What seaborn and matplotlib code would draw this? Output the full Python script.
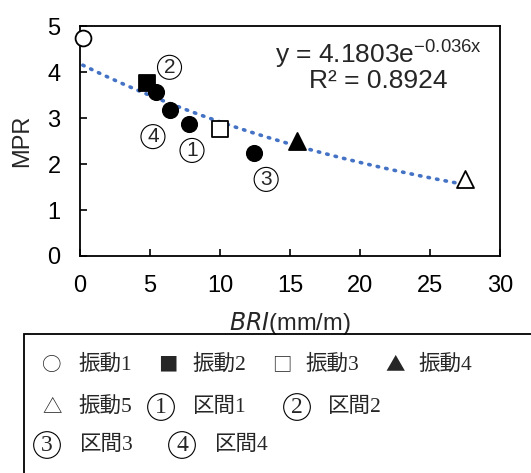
import numpy as np
import pandas as pd
import matplotlib.pyplot as plt
from matplotlib.patches import Rectangle
import seaborn as sns

# vibration test points (振動1-5)
vib_names = ['振動1', '振動2', '振動3', '振動4', '振動5']
vib_bri = [0.2, 4.8, 10.0, 15.5, 27.5]
vib_mpr = [4.74, 3.76, 2.76, 2.50, 1.67]
vib_markers = ['o', 's', 's', '^', '^']
vib_filled = [False, True, False, True, False]

# section points (区間1-4)
sec_labels = ['1', '2', '3', '4']
sec_bri = [7.8, 5.4, 12.4, 6.4]
sec_mpr = [2.87, 3.56, 2.24, 3.17]
sec_label_offsets = [(2, -19), (10, 18), (9, -19), (-12, -19)]

# exponential trendline y = a * exp(b * x)
fit_a = 4.1803
fit_b = -0.036
fit_r2 = 0.8924

# text box entries: symbol, circled?, label
key_symbols = ['○', '■', '□', '▲', '△', '1', '2', '3', '4']
key_circled = [False] * 5 + [True] * 4
key_texts = vib_names + ['区間1', '区間2', '区間3', '区間4']
key_sym_x = [52, 168, 282, 395, 52, 161, 297, 47, 182]
key_txt_x = [78, 192, 305, 418, 78, 193, 328, 80, 215]
key_row_y = [365, 365, 365, 365, 407, 407, 407, 445, 445]

sns.set_style('white')
plt.rcParams['font.family'] = ['Liberation Sans', 'DejaVu Sans']

fig = plt.figure(figsize=(5.31, 4.73), dpi=100)
ax = fig.add_axes([0.1507, 0.4588, 0.791, 0.486])

xs = np.linspace(min(vib_bri), max(vib_bri), 200)
trend = pd.DataFrame({'x': xs, 'y': fit_a * np.exp(fit_b * xs)})
sns.lineplot(data=trend, x='x', y='y', ax=ax, color='#4472C4', lw=2.6,
             linestyle=(0, (0.4, 2.0)), dash_capstyle='round', zorder=2)

for bx, my, mk, filled in zip(vib_bri, vib_mpr, vib_markers, vib_filled):
    sns.scatterplot(x=[bx], y=[my], ax=ax, marker=mk, s=130 if mk != '^' else 150,
                    color='black' if filled else 'white', edgecolor='black',
                    linewidth=1.3, zorder=3, clip_on=False)

sns.scatterplot(x=sec_bri, y=sec_mpr, ax=ax, marker='o', s=130, color='black',
                edgecolor='black', zorder=3)

for lab, bx, my, off in zip(sec_labels, sec_bri, sec_mpr, sec_label_offsets):
    ax.annotate(lab, (bx, my), xytext=off, textcoords='offset points',
                ha='center', va='center', fontsize=15,
                bbox=dict(boxstyle='circle,pad=0.12', fc='none', ec='black', lw=0.8))

ax.text(0.71, 0.88, 'y = 4.1803e$^{\\mathregular{-0.036x}}$', transform=ax.transAxes,
        ha='center', va='center', fontsize=19)
ax.text(0.71, 0.76, 'R² = {:.4f}'.format(fit_r2), transform=ax.transAxes,
        ha='center', va='center', fontsize=19)

ax.set_xlim(0, 30)
ax.set_ylim(0, 5)
ax.set_xticks(range(0, 31, 5))
ax.set_yticks(range(0, 6))
ax.tick_params(direction='in', length=5, width=1.2, pad=14, labelsize=17,
               bottom=True, left=True, colors='black')
for sp in ax.spines.values():
    sp.set_color('black')
    sp.set_linewidth(1.3)

ax.set_xlabel('$\\mathit{BRI}$(mm/m)', fontsize=17, labelpad=9)
ax.set_ylabel('MPR', fontsize=17, labelpad=10)

# text box under the chart
fig.add_artist(Rectangle((24 / 531, -0.1), 1.0, 0.1 + 1 - 334 / 473,
                         transform=fig.transFigure, fill=False, ec='black', lw=1.3))
for sym, circ, txt, sx, tx, ry in zip(key_symbols, key_circled, key_texts,
                                      key_sym_x, key_txt_x, key_row_y):
    yy = 1 - ry / 473
    if circ:
        fig.text(sx / 531, yy, sym, ha='center', va='center', fontsize=17,
                 family=['Liberation Serif'],
                 bbox=dict(boxstyle='circle,pad=0.12', fc='none', ec='black', lw=0.8))
    else:
        fig.text(sx / 531, yy, sym, ha='center', va='center', fontsize=14,
                 family=['Noto Sans CJK JP'])
    fig.text(tx / 531, yy, txt, ha='left', va='center', fontsize=15.5,
             family=['Liberation Serif', 'Noto Sans CJK JP'])

fig.savefig('out.png', dpi=100)
